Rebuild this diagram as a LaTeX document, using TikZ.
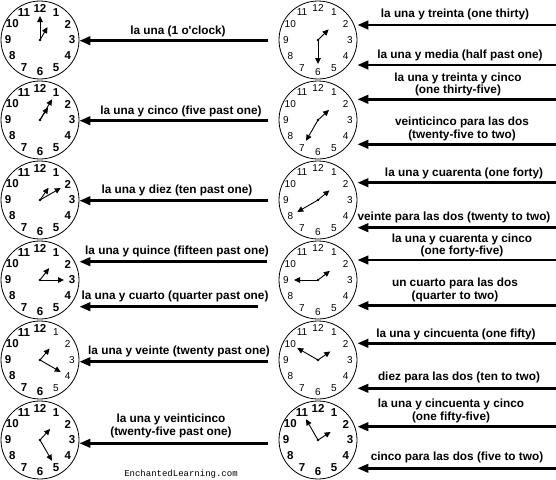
\documentclass[tikz,border=0pt]{standalone}
\usepackage{fontspec}
\setmainfont{Liberation Sans}
\newfontfamily\creditfont{Liberation Mono}
\usetikzlibrary{arrows.meta}
\tikzset{
clockface/.style={circle, draw, line width=0.8pt, minimum size=78pt, inner sep=0pt}, % the round dial
boldnum/.style={font=\bfseries\fontsize{11.5}{12}\selectfont, inner sep=0pt}, % heavy numbers on a dial
thinnum/.style={font=\fontsize{10}{11}\selectfont, inner sep=0pt}, % light numbers on a dial
hand/.style={-{Triangle[length=6pt,width=5.5pt]}, line width=0.9pt}, % hour and minute hands
pointer/.style={-{Triangle[length=11pt,width=8.5pt]}, line width=2.6pt}, % arrow from a caption to its clock
caption/.style={font=\bfseries\fontsize{11.8}{12.3}\selectfont, align=center, inner sep=0pt}, % the time in words
}
% name, centre, hour angle, minute angle, style of 1..5, style of 6..12
\newcommand{\dial}[6]{%
\node[clockface] (#1) at (#2) {};
\foreach \n in {1,...,5} \node[#5] (#1-\n) at ([shift={(\n*30-90:32)}]#1.center) {\n};
\foreach \n in {6,...,12} \node[#6] (#1-\n) at ([shift={(\n*30-90:32)}]#1.center) {\n};
\draw[hand] (#1.center) -- ++(#3-90:15);
\draw[hand] (#1.center) -- ++(#4-90:24);
\fill (#1.center) circle (1.4pt);
}

\begin{document}
\begin{tikzpicture}[x=1pt, y=-1pt]
\useasboundingbox (0,0) rectangle (556,479);

% left column
\dial{L1}{40,40}{30}{0}{boldnum}{boldnum}
\dial{L2}{40,120}{32.5}{30}{boldnum}{boldnum}
\dial{L3}{40,200}{35}{60}{boldnum}{boldnum}
\dial{L4}{40,280}{37.5}{90}{boldnum}{boldnum}
\dial{L5}{40,360}{40}{120}{thinnum}{boldnum}
\dial{L6}{40,440}{42.5}{150}{boldnum}{boldnum}

% right column
\dial{R1}{318,40}{45}{180}{thinnum}{thinnum}
\dial{R2}{318,120}{47.5}{210}{thinnum}{thinnum}
\dial{R3}{318,200}{50}{240}{thinnum}{thinnum}
\dial{R4}{318,280}{52.5}{270}{thinnum}{thinnum}
\dial{R5}{318,360}{55}{300}{thinnum}{thinnum}
\dial{R6}{318,440}{57.5}{330}{boldnum}{boldnum}

\node[caption] (l1) at (178,31.5) {la una (1 o\textquotesingle clock)};
\node[caption] (l2) at (181,111.5) {la una y cinco (five past one)};
\node[caption] (l3) at (177,190.5) {la una y diez (ten past one)};
\node[caption] (l4) at (177,251.5) {la una y quince (fifteen past one)};
\node[caption] (l5) at (175,296.5) {la una y cuarto (quarter past one)};
\node[caption] (l6) at (179,351.5) {la una y veinte (twenty past one)};
\node[caption] (l7) at (171,426) {la una y veinticinco\\(twenty-five past one)};

\node[caption] (r1) at (455,14) {la una y treinta (one thirty)};
\node[caption] (r2) at (460,55) {la una y media (half past one)};
\node[caption] (r3) at (458,84.5) {la una y treinta y cinco\\(one thirty-five)};
\node[caption] (r4) at (462,129) {veinticinco para las dos\\(twenty-five to two)};
\node[caption] (r5) at (464,173.3) {la una y cuarenta (one forty)};
\node[caption] (r6) at (454,217.3) {veinte para las dos (twenty to two)};
\node[caption] (r7) at (462,245.3) {la una y cuarenta y cinco\\(one forty-five)};
\node[caption] (r8) at (455,290) {un cuarto para las dos\\(quarter to two)};
\node[caption] (r9) at (456,334) {la una y cincuenta (one fifty)};
\node[caption] (r10) at (459,377.3) {diez para las dos (ten to two)};
\node[caption] (r11) at (451,411) {la una y cincuenta y cinco\\(one fifty-five)};
\node[caption] (r12) at (457,457.3) {cinco para las dos (five to two)};

\node[font=\creditfont\fontsize{9}{10}\selectfont, inner sep=0pt] (credit) at (181,474) {EnchantedLearning.com};

% arrows, tail coordinates first
\coordinate (l1s) at (268,40.7);
\coordinate (l2s) at (268,120.7);
\coordinate (l3s) at (268,200.7);
\coordinate (l4s) at (267,261.7);
\coordinate (l5s) at (258,306.7);
\coordinate (l6s) at (268,361.7);
\coordinate (l7s) at (268,443.3);
\draw[pointer] (l1s) -- (l1s -| L1.east);
\draw[pointer] (l2s) -- (l2s -| L2.east);
\draw[pointer] (l3s) -- (l3s -| L3.east);
\draw[pointer] (l4s) -- (l4s -| L4.east);
\draw[pointer] (l5s) -- (l5s -| L4.east);
\draw[pointer] (l6s) -- (l6s -| L5.east);
\draw[pointer] (l7s) -- (l7s -| L6.east);

\coordinate (r1s) at (556,25);
\coordinate (r2s) at (556,65);
\coordinate (r3s) at (556,99.3);
\coordinate (r4s) at (556,144.3);
\coordinate (r5s) at (556,182.7);
\coordinate (r6s) at (556,227.7);
\coordinate (r7s) at (556,260);
\coordinate (r8s) at (556,305.7);
\coordinate (r9s) at (556,343.3);
\coordinate (r10s) at (556,388.3);
\coordinate (r11s) at (556,426.7);
\coordinate (r12s) at (556,468.3);
\draw[pointer] (r1s) -- (r1s -| R1.east);
\draw[pointer] (r2s) -- (r2s -| R1.east);
\draw[pointer] (r3s) -- (r3s -| R2.east);
\draw[pointer] (r4s) -- (r4s -| R2.east);
\draw[pointer] (r5s) -- (r5s -| R3.east);
\draw[pointer] (r6s) -- (r6s -| R3.east);
\draw[pointer] (r7s) -- (r7s -| R4.east);
\draw[pointer] (r8s) -- (r8s -| R4.east);
\draw[pointer] (r9s) -- (r9s -| R5.east);
\draw[pointer] (r10s) -- (r10s -| R5.east);
\draw[pointer] (r11s) -- (r11s -| R6.east);
\draw[pointer] (r12s) -- (r12s -| R6.east);
\end{tikzpicture}
\end{document}
